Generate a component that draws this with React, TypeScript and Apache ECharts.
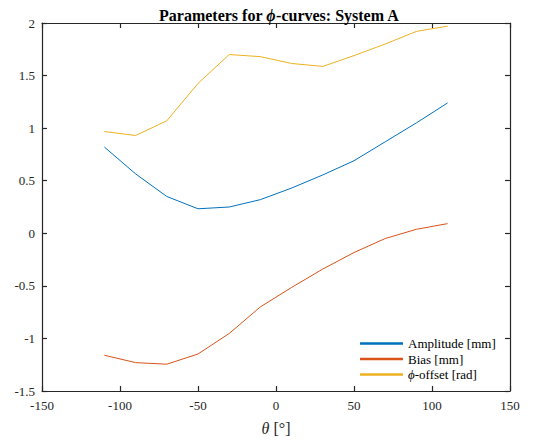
import React, { useEffect, useRef } from "react";
import * as echarts from "echarts";

const thetaDeg = [-110, -90, -70, -50, -30, -10, 10, 30, 50, 70, 90, 110];
const amplitude = [0.82, 0.565, 0.35, 0.233, 0.25, 0.32, 0.43, 0.555, 0.69, 0.87, 1.05, 1.24];
const bias = [-1.16, -1.23, -1.245, -1.148, -0.953, -0.70, -0.515, -0.34, -0.183, -0.05, 0.038, 0.092];
const phiOffset = [0.968, 0.93, 1.07, 1.425, 1.70, 1.68, 1.615, 1.587, 1.69, 1.80, 1.92, 1.97];

const seriesNames = ["Amplitude [mm]", "Bias [mm]", "ϕ-offset [rad]"];
const colors = ["#0072BD", "#D95319", "#EDB120"];

const FONT = "Liberation Serif";
const AXIS_COLOR = "#262626";

export default function App() {
  const ref = useRef<HTMLDivElement>(null);
  useEffect(() => {
    const chart = echarts.init(ref.current!, null, { renderer: "svg" });
    const seriesData = [amplitude, bias, phiOffset];
    const axisCommon = {
      type: "value" as const,
      axisLine: { show: true, onZero: false, lineStyle: { color: AXIS_COLOR, width: 1.2 } },
      axisTick: { show: true, inside: true, length: 5, lineStyle: { color: AXIS_COLOR, width: 1.2 } },
      splitLine: { show: false },
    };
    chart.setOption({
      animation: false,
      backgroundColor: "#ffffff",
      textStyle: { fontFamily: FONT },
      title: {
        text: "{b|Parameters for }{bi|ϕ}{b|-curves: System A}",
        left: 274,
        textAlign: "center",
        top: 2,
        textStyle: {
          fontFamily: FONT,
          rich: {
            b: { fontFamily: FONT, fontWeight: "bold", fontSize: 16, color: "#000" },
            bi: { fontFamily: FONT, fontWeight: "bold", fontStyle: "italic", fontSize: 16, color: "#000" },
          },
        },
      },
      grid: { left: 42, right: 23, top: 23, bottom: 48, containLabel: false },
      xAxis: [
        {
          ...axisCommon,
          min: -150,
          max: 150,
          interval: 50,
          position: "bottom",
          axisLabel: { color: AXIS_COLOR, fontSize: 13, fontFamily: FONT, margin: 8 },
          name: "{i|θ} [°]",
          nameLocation: "middle",
          nameGap: 29,
          nameTextStyle: {
            color: AXIS_COLOR,
            fontSize: 16,
            fontFamily: FONT,
            rich: {
              i: { fontStyle: "italic", fontSize: 16, fontFamily: FONT, color: AXIS_COLOR },
            },
          },
        },
        {
          ...axisCommon,
          min: -150,
          max: 150,
          interval: 50,
          position: "top",
          axisLabel: { show: false },
        },
      ],
      yAxis: [
        {
          ...axisCommon,
          min: -1.5,
          max: 2,
          interval: 0.5,
          position: "left",
          axisLabel: { color: AXIS_COLOR, fontSize: 13, fontFamily: FONT, margin: 7 },
        },
        {
          ...axisCommon,
          min: -1.5,
          max: 2,
          interval: 0.5,
          position: "right",
          axisLabel: { show: false },
        },
      ],
      legend: {
        orient: "vertical",
        left: 355,
        top: 332,
        itemWidth: 43,
        itemHeight: 2.5,
        itemGap: 2.5,
        icon: "rect",
        data: seriesNames,
        formatter: (name: string) =>
          name.startsWith("ϕ") ? "{i|ϕ}{n|" + name.slice(1) + "}" : "{n|" + name + "}",
        textStyle: {
          fontFamily: FONT,
          fontSize: 13,
          color: "#000",
          rich: {
            n: { fontFamily: FONT, fontSize: 13, color: "#000" },
            i: { fontFamily: FONT, fontSize: 13, fontStyle: "italic", color: "#000" },
          },
        },
      },
      series: seriesNames.map((name, k) => ({
        name,
        type: "line",
        xAxisIndex: 0,
        yAxisIndex: 0,
        showSymbol: false,
        symbol: "none",
        color: colors[k],
        lineStyle: { color: colors[k], width: 1 },
        data: thetaDeg.map((t, i) => [t, seriesData[k][i]]),
      })),
    });
    return () => chart.dispose();
  }, []);
  return <div ref={ref} style={{ width: 533, height: 441, position: "absolute", left: 0, top: 0 }} />;
}
